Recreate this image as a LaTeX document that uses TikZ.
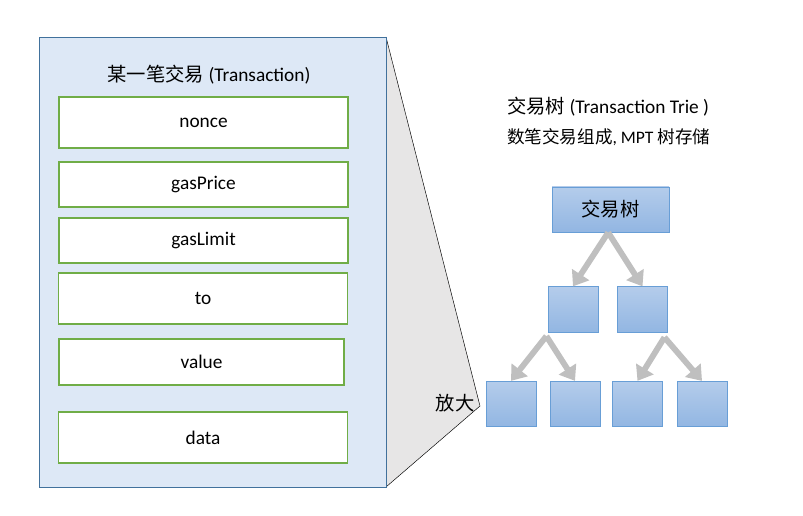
\documentclass[tikz,border=0pt]{standalone}
\usepackage{fontspec}
\setmainfont{Carlito}
\newfontfamily\cjk{Noto Sans CJK SC}
\usetikzlibrary{arrows.meta}
\definecolor{panelfill}{RGB}{221,232,246}
\definecolor{paneledge}{RGB}{65,113,156}
\definecolor{fieldedge}{RGB}{112,173,71}
\definecolor{zoomfill}{RGB}{231,230,230}
\definecolor{trietop}{RGB}{180,204,235}
\definecolor{triebot}{RGB}{146,182,226}
\definecolor{trieedge}{RGB}{104,158,214}
\definecolor{branchgrey}{RGB}{191,191,191}

\begin{document}
\begin{tikzpicture}[x=0.03cm,y=-0.03cm,
  every node/.style={font=\fontsize{16.5}{20}\selectfont},
  field/.style={draw=fieldedge,line width=1pt,fill=white,minimum width=8.67cm},
  trienode/.style={draw=trieedge,line width=0.8pt,top color=trietop,bottom color=triebot,minimum width=1.5cm,minimum height=1.36cm},
  branch/.style={draw=branchgrey,line width=5pt,-{Triangle[length=12pt,width=17pt]}}]
\useasboundingbox (0,0) rectangle (803,516);
% the zoom wedge
\filldraw[fill=zoomfill,draw=black,thin] (386,37) -- (480,406) -- (386,487);
% one transaction
\draw[fill=panelfill,draw=paneledge,thick] (39,37) rectangle (386,487);
\node (txtitle) at (209,75) {{\cjk 某一笔交易} (Transaction)};
\node[field,minimum height=1.53cm] (nonce) at (203.5,122.5) {nonce};
\node[field,minimum height=1.35cm] (gasprice) at (203.5,184.5) {gasPrice};
\node[field,minimum height=1.35cm] (gaslimit) at (203.5,240.5) {gasLimit};
\node[field,minimum height=1.53cm] (to) at (203,298.5) {to};
\node[field,minimum height=1.38cm,minimum width=8.55cm] (value) at (201.5,362) {value};
\node[field,minimum height=1.53cm] (data) at (203,437.5) {data};
\node (zoomlbl) at (455,403) {{\cjk 放大}};
% the trie
\node[anchor=west] (trietitle) at (503,107) {{\cjk 交易树} (Transaction Trie )};
\node[anchor=west,font=\fontsize{15}{18}\selectfont] (triesub) at (503,137) {{\cjk 数笔交易组成}, MPT {\cjk 树存储}};
\node[trienode,minimum width=3.51cm,minimum height=1.35cm] (root) at (610.5,209.5) {{\cjk 交易树}};
\node[trienode] (l2a) at (573,309.5) {};
\node[trienode] (l2b) at (642.5,309.5) {};
\node[trienode] (l3a) at (511,404) {};
\node[trienode] (l3b) at (575,404) {};
\node[trienode] (l3c) at (637.5,404) {};
\node[trienode] (l3d) at (702,404) {};
\draw[branch] ([xshift=-2pt]root.south) -- (l2a.north);
\draw[branch] ([xshift=-2pt]root.south) -- (l2b.north);
\draw[branch] ([shift={(-1pt,-3pt)}]l2a.south west) -- (l3a.north);
\draw[branch] ([shift={(-1pt,-3pt)}]l2a.south west) -- (l3b.north);
\draw[branch] ([shift={(-3pt,-4pt)}]l2b.south east) -- (l3c.north);
\draw[branch] ([shift={(-3pt,-4pt)}]l2b.south east) -- (l3d.north);
\end{tikzpicture}
\end{document}
